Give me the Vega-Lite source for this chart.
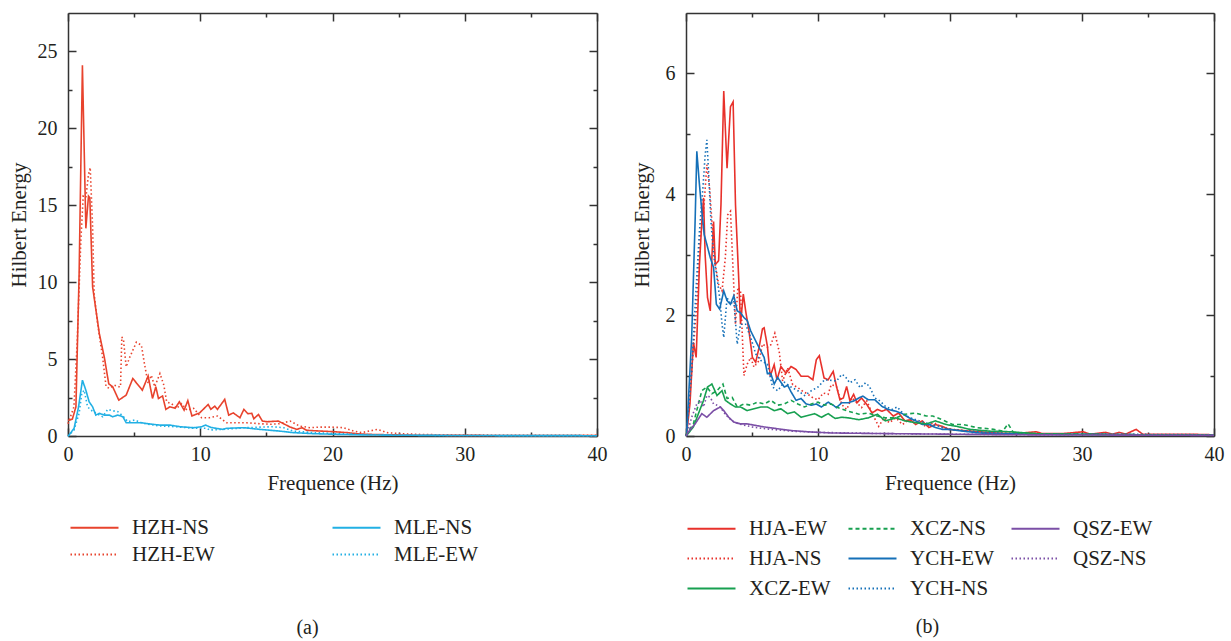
{
"$schema": "https://vega.github.io/schema/vega-lite/v6.json",
"padding": {"left": 8, "top": 12, "right": 5, "bottom": 5},
"spacing": 24,
"resolve": {"scale": {"color": "independent", "strokeDash": "independent"}},
"config": {
  "font": "Liberation Serif",
  "view": {"stroke": null},
  "axis": {"grid": false, "domainColor": "#333333", "domainWidth": 1.5, "tickColor": "#333333", "tickWidth": 1.5, "labelColor": "#231f20", "labelFontSize": 20, "titleFontSize": 21, "titleFontWeight": "normal", "titleColor": "#231f20", "labelFont": "Liberation Serif", "titleFont": "Liberation Serif"},
  "legend": {"labelFont": "Liberation Serif", "labelFontSize": 21, "labelColor": "#231f20"},
  "title": {"font": "Liberation Serif", "fontSize": 20, "fontWeight": "normal", "color": "#231f20"}
},
"hconcat": [
{
  "width": 529, "height": 423,
  "title": {"text": "(a)", "orient": "bottom", "offset": 53, "anchor": "middle", "frame": "bounds"},
  "data": {"values": [
{"s":"HZH-NS","f":0,"e":1.0},{"s":"HZH-NS","f":0.33,"e":1.1},{"s":"HZH-NS","f":0.6,"e":1.9},{"s":"HZH-NS","f":0.84,"e":10.5},{"s":"HZH-NS","f":1.09,"e":24.1},{"s":"HZH-NS","f":1.35,"e":13.5},{"s":"HZH-NS","f":1.55,"e":15.6},{"s":"HZH-NS","f":1.65,"e":15.5},{"s":"HZH-NS","f":1.86,"e":9.7},{"s":"HZH-NS","f":2.37,"e":6.65},{"s":"HZH-NS","f":2.75,"e":5.1},{"s":"HZH-NS","f":3.08,"e":3.4},{"s":"HZH-NS","f":3.38,"e":3.2},{"s":"HZH-NS","f":3.84,"e":2.33},{"s":"HZH-NS","f":4.4,"e":2.66},{"s":"HZH-NS","f":4.9,"e":3.74},{"s":"HZH-NS","f":5.62,"e":2.98},{"s":"HZH-NS","f":6.06,"e":3.9},{"s":"HZH-NS","f":6.39,"e":2.44},{"s":"HZH-NS","f":6.64,"e":3.2},{"s":"HZH-NS","f":6.84,"e":2.44},{"s":"HZH-NS","f":7.15,"e":2.6},{"s":"HZH-NS","f":7.4,"e":1.73},{"s":"HZH-NS","f":7.71,"e":1.9},{"s":"HZH-NS","f":8.1,"e":1.8},{"s":"HZH-NS","f":8.42,"e":2.22},{"s":"HZH-NS","f":8.78,"e":1.68},{"s":"HZH-NS","f":9.06,"e":2.3},{"s":"HZH-NS","f":9.37,"e":1.3},{"s":"HZH-NS","f":9.95,"e":1.5},{"s":"HZH-NS","f":10.6,"e":2.05},{"s":"HZH-NS","f":10.8,"e":1.73},{"s":"HZH-NS","f":11.1,"e":1.94},{"s":"HZH-NS","f":11.3,"e":1.73},{"s":"HZH-NS","f":11.85,"e":2.38},{"s":"HZH-NS","f":12.15,"e":1.36},{"s":"HZH-NS","f":12.5,"e":1.5},{"s":"HZH-NS","f":13.0,"e":1.19},{"s":"HZH-NS","f":13.3,"e":1.73},{"s":"HZH-NS","f":13.6,"e":1.45},{"s":"HZH-NS","f":13.9,"e":1.47},{"s":"HZH-NS","f":14.05,"e":1.12},{"s":"HZH-NS","f":14.4,"e":1.4},{"s":"HZH-NS","f":14.7,"e":0.97},{"s":"HZH-NS","f":15.06,"e":0.93},{"s":"HZH-NS","f":15.9,"e":0.97},{"s":"HZH-NS","f":16.3,"e":0.8},{"s":"HZH-NS","f":16.8,"e":0.58},{"s":"HZH-NS","f":17.3,"e":0.43},{"s":"HZH-NS","f":17.7,"e":0.54},{"s":"HZH-NS","f":18.05,"e":0.37},{"s":"HZH-NS","f":19.1,"e":0.32},{"s":"HZH-NS","f":20.1,"e":0.28},{"s":"HZH-NS","f":21.1,"e":0.22},{"s":"HZH-NS","f":21.85,"e":0.15},{"s":"HZH-NS","f":22.6,"e":0.11},{"s":"HZH-NS","f":23.6,"e":0.09},{"s":"HZH-NS","f":24.9,"e":0.07},{"s":"HZH-NS","f":26.2,"e":0.05},{"s":"HZH-NS","f":30,"e":0.04},{"s":"HZH-NS","f":35,"e":0.03},{"s":"HZH-NS","f":40,"e":0.03},
{"s":"HZH-EW","f":0,"e":0.8},{"s":"HZH-EW","f":0.45,"e":1.9},{"s":"HZH-EW","f":0.7,"e":6.2},{"s":"HZH-EW","f":0.97,"e":12.7},{"s":"HZH-EW","f":1.15,"e":15.6},{"s":"HZH-EW","f":1.35,"e":15.5},{"s":"HZH-EW","f":1.55,"e":17.0},{"s":"HZH-EW","f":1.68,"e":17.45},{"s":"HZH-EW","f":1.86,"e":13.6},{"s":"HZH-EW","f":1.98,"e":9.2},{"s":"HZH-EW","f":2.24,"e":7.3},{"s":"HZH-EW","f":2.62,"e":5.1},{"s":"HZH-EW","f":2.88,"e":3.2},{"s":"HZH-EW","f":3.13,"e":3.1},{"s":"HZH-EW","f":3.5,"e":3.3},{"s":"HZH-EW","f":3.84,"e":3.2},{"s":"HZH-EW","f":3.97,"e":3.2},{"s":"HZH-EW","f":4.07,"e":6.44},{"s":"HZH-EW","f":4.2,"e":6.2},{"s":"HZH-EW","f":4.4,"e":4.5},{"s":"HZH-EW","f":4.66,"e":5.1},{"s":"HZH-EW","f":4.9,"e":5.57},{"s":"HZH-EW","f":5.17,"e":6.1},{"s":"HZH-EW","f":5.55,"e":5.9},{"s":"HZH-EW","f":5.8,"e":4.6},{"s":"HZH-EW","f":6.06,"e":3.4},{"s":"HZH-EW","f":6.3,"e":3.95},{"s":"HZH-EW","f":6.56,"e":3.2},{"s":"HZH-EW","f":6.95,"e":4.06},{"s":"HZH-EW","f":7.25,"e":3.3},{"s":"HZH-EW","f":7.46,"e":2.22},{"s":"HZH-EW","f":7.84,"e":2.1},{"s":"HZH-EW","f":8.2,"e":1.8},{"s":"HZH-EW","f":8.6,"e":2.1},{"s":"HZH-EW","f":9.0,"e":1.68},{"s":"HZH-EW","f":9.5,"e":1.8},{"s":"HZH-EW","f":10.1,"e":1.19},{"s":"HZH-EW","f":10.7,"e":1.19},{"s":"HZH-EW","f":11.3,"e":1.3},{"s":"HZH-EW","f":12.0,"e":0.86},{"s":"HZH-EW","f":12.6,"e":0.86},{"s":"HZH-EW","f":13.5,"e":0.86},{"s":"HZH-EW","f":14.5,"e":0.8},{"s":"HZH-EW","f":15.3,"e":0.76},{"s":"HZH-EW","f":16.0,"e":0.8},{"s":"HZH-EW","f":16.8,"e":0.97},{"s":"HZH-EW","f":17.5,"e":0.65},{"s":"HZH-EW","f":18.3,"e":0.54},{"s":"HZH-EW","f":19.1,"e":0.58},{"s":"HZH-EW","f":19.95,"e":0.58},{"s":"HZH-EW","f":20.8,"e":0.54},{"s":"HZH-EW","f":21.6,"e":0.32},{"s":"HZH-EW","f":22.2,"e":0.22},{"s":"HZH-EW","f":23.4,"e":0.43},{"s":"HZH-EW","f":24.1,"e":0.22},{"s":"HZH-EW","f":25.1,"e":0.15},{"s":"HZH-EW","f":26.7,"e":0.1},{"s":"HZH-EW","f":28,"e":0.08},{"s":"HZH-EW","f":30,"e":0.06},{"s":"HZH-EW","f":33,"e":0.05},{"s":"HZH-EW","f":36,"e":0.04},{"s":"HZH-EW","f":40,"e":0.04},
{"s":"MLE-NS","f":0,"e":0.0},{"s":"MLE-NS","f":0.08,"e":0.06},{"s":"MLE-NS","f":0.46,"e":0.5},{"s":"MLE-NS","f":0.8,"e":1.9},{"s":"MLE-NS","f":1.09,"e":3.63},{"s":"MLE-NS","f":1.35,"e":2.98},{"s":"MLE-NS","f":1.6,"e":2.22},{"s":"MLE-NS","f":1.86,"e":1.9},{"s":"MLE-NS","f":2.1,"e":1.36},{"s":"MLE-NS","f":2.37,"e":1.47},{"s":"MLE-NS","f":2.75,"e":1.36},{"s":"MLE-NS","f":3.13,"e":1.36},{"s":"MLE-NS","f":3.38,"e":1.25},{"s":"MLE-NS","f":3.77,"e":1.36},{"s":"MLE-NS","f":4.15,"e":1.25},{"s":"MLE-NS","f":4.4,"e":0.86},{"s":"MLE-NS","f":4.9,"e":0.86},{"s":"MLE-NS","f":5.55,"e":0.86},{"s":"MLE-NS","f":6.2,"e":0.78},{"s":"MLE-NS","f":6.95,"e":0.71},{"s":"MLE-NS","f":7.7,"e":0.71},{"s":"MLE-NS","f":8.5,"e":0.6},{"s":"MLE-NS","f":9.5,"e":0.54},{"s":"MLE-NS","f":10.1,"e":0.6},{"s":"MLE-NS","f":10.4,"e":0.71},{"s":"MLE-NS","f":10.8,"e":0.56},{"s":"MLE-NS","f":11.7,"e":0.43},{"s":"MLE-NS","f":12.0,"e":0.5},{"s":"MLE-NS","f":13.3,"e":0.54},{"s":"MLE-NS","f":14.5,"e":0.43},{"s":"MLE-NS","f":15.3,"e":0.37},{"s":"MLE-NS","f":16.0,"e":0.32},{"s":"MLE-NS","f":17.0,"e":0.22},{"s":"MLE-NS","f":18.6,"e":0.15},{"s":"MLE-NS","f":20.3,"e":0.11},{"s":"MLE-NS","f":22.4,"e":0.07},{"s":"MLE-NS","f":24.9,"e":0.05},{"s":"MLE-NS","f":30,"e":0.03},{"s":"MLE-NS","f":40,"e":0.02},
{"s":"MLE-EW","f":0,"e":0.0},{"s":"MLE-EW","f":0.08,"e":0.04},{"s":"MLE-EW","f":0.46,"e":0.4},{"s":"MLE-EW","f":0.84,"e":1.47},{"s":"MLE-EW","f":1.04,"e":2.76},{"s":"MLE-EW","f":1.22,"e":2.98},{"s":"MLE-EW","f":1.48,"e":1.9},{"s":"MLE-EW","f":1.73,"e":1.68},{"s":"MLE-EW","f":2.1,"e":1.5},{"s":"MLE-EW","f":2.62,"e":1.25},{"s":"MLE-EW","f":3.0,"e":1.73},{"s":"MLE-EW","f":3.38,"e":1.64},{"s":"MLE-EW","f":3.77,"e":1.58},{"s":"MLE-EW","f":4.15,"e":1.3},{"s":"MLE-EW","f":4.53,"e":0.93},{"s":"MLE-EW","f":5.04,"e":1.04},{"s":"MLE-EW","f":5.67,"e":0.82},{"s":"MLE-EW","f":6.95,"e":0.65},{"s":"MLE-EW","f":8.2,"e":0.6},{"s":"MLE-EW","f":9.5,"e":0.5},{"s":"MLE-EW","f":10.5,"e":0.5},{"s":"MLE-EW","f":10.7,"e":0.39},{"s":"MLE-EW","f":11.7,"e":0.43},{"s":"MLE-EW","f":13.5,"e":0.54},{"s":"MLE-EW","f":14.6,"e":0.58},{"s":"MLE-EW","f":15.5,"e":0.6},{"s":"MLE-EW","f":16.3,"e":0.54},{"s":"MLE-EW","f":17.0,"e":0.32},{"s":"MLE-EW","f":18.6,"e":0.22},{"s":"MLE-EW","f":20.3,"e":0.15},{"s":"MLE-EW","f":22.6,"e":0.09},{"s":"MLE-EW","f":24.9,"e":0.06},{"s":"MLE-EW","f":30,"e":0.03},{"s":"MLE-EW","f":40,"e":0.02}
  ]},
  "layer": [
    {"mark": {"type": "line", "strokeWidth": 1.6},
     "encoding": {
       "x": {"field": "f", "type": "quantitative", "scale": {"domain": [0, 40], "nice": false, "zero": false}, "axis": {"orient": "bottom", "values": [0, 10, 20, 30, 40], "tickSize": -8, "labelPadding": 16, "labelFlush": false, "title": "Frequence (Hz)", "titlePadding": 8}},
       "y": {"field": "e", "type": "quantitative", "scale": {"domain": [0, 27.5], "nice": false}, "axis": {"orient": "left", "values": [0, 5, 10, 15, 20, 25], "tickSize": -8, "labelPadding": 19, "title": "Hilbert Energy", "titlePadding": 8}},
       "color": {"field": "s", "type": "nominal", "scale": {"domain": ["HZH-NS", "HZH-EW", "MLE-NS", "MLE-EW"], "range": ["#e8432d", "#e8432d", "#22b0e4", "#22b0e4"]},
         "legend": {"orient": "none", "legendX": 16, "legendY": 504, "columns": 2, "title": null, "symbolType": "M-3,0H3", "symbolSize": 256, "symbolStrokeWidth": 2, "labelOffset": 27, "columnPadding": 113, "rowPadding": 5}},
       "strokeDash": {"field": "s", "type": "nominal", "scale": {"domain": ["HZH-NS", "HZH-EW", "MLE-NS", "MLE-EW"], "range": [[1, 0], [1.5, 2.5], [1, 0], [1.5, 2.5]]},
         "legend": {"orient": "none", "legendX": 16, "legendY": 504, "columns": 2, "title": null, "symbolType": "M-3,0H3", "symbolSize": 256, "symbolStrokeWidth": 2, "labelOffset": 27, "columnPadding": 113, "rowPadding": 5}}
     }},
    {"mark": {"type": "line", "opacity": 0},
     "encoding": {
       "x": {"field": "f", "type": "quantitative", "scale": {"domain": [0, 40], "nice": false, "zero": false}, "axis": {"orient": "bottom", "values": [5, 15, 25, 35], "tickSize": -4, "labels": false, "domain": false, "title": null}},
       "y": {"field": "e", "type": "quantitative", "scale": {"domain": [0, 27.5], "nice": false}, "axis": {"orient": "left", "values": [2.5, 7.5, 12.5, 17.5, 22.5], "tickSize": -4, "labels": false, "domain": false, "title": null}},
       "detail": {"field": "s"}
     }},
    {"mark": {"type": "line", "opacity": 0},
     "encoding": {
       "x": {"field": "f", "type": "quantitative", "scale": {"domain": [0, 40], "nice": false, "zero": false}, "axis": {"orient": "top", "values": [0, 10, 20, 30, 40], "tickSize": -8, "labels": false, "title": null}},
       "y": {"field": "e", "type": "quantitative", "scale": {"domain": [0, 27.5], "nice": false}, "axis": {"orient": "right", "values": [0, 5, 10, 15, 20, 25], "tickSize": -8, "labels": false, "title": null}},
       "detail": {"field": "s"}
     }},
    {"mark": {"type": "line", "opacity": 0},
     "encoding": {
       "x": {"field": "f", "type": "quantitative", "scale": {"domain": [0, 40], "nice": false, "zero": false}, "axis": {"orient": "top", "values": [5, 15, 25, 35], "tickSize": -4, "labels": false, "domain": false, "title": null}},
       "y": {"field": "e", "type": "quantitative", "scale": {"domain": [0, 27.5], "nice": false}, "axis": {"orient": "right", "values": [2.5, 7.5, 12.5, 17.5, 22.5], "tickSize": -4, "labels": false, "domain": false, "title": null}},
       "detail": {"field": "s"}
     }}
  ],
  "resolve": {"axis": {"x": "independent", "y": "independent"}}
},
{
  "width": 528, "height": 423,
  "title": {"text": "(b)", "orient": "bottom", "offset": 18, "anchor": "middle", "frame": "bounds"},
  "data": {"values": [
{"s":"HJA-EW","f":0,"e":0},{"s":"HJA-EW","f":0.05,"e":0.04},{"s":"HJA-EW","f":0.3,"e":0.53},{"s":"HJA-EW","f":0.56,"e":1.55},{"s":"HJA-EW","f":0.77,"e":1.3},{"s":"HJA-EW","f":1.02,"e":2.84},{"s":"HJA-EW","f":1.2,"e":3.55},{"s":"HJA-EW","f":1.33,"e":3.94},{"s":"HJA-EW","f":1.45,"e":3.0},{"s":"HJA-EW","f":1.63,"e":2.29},{"s":"HJA-EW","f":1.84,"e":2.07},{"s":"HJA-EW","f":1.96,"e":2.95},{"s":"HJA-EW","f":2.09,"e":3.55},{"s":"HJA-EW","f":2.22,"e":2.84},{"s":"HJA-EW","f":2.35,"e":2.87},{"s":"HJA-EW","f":2.47,"e":2.9},{"s":"HJA-EW","f":2.65,"e":3.83},{"s":"HJA-EW","f":2.86,"e":5.71},{"s":"HJA-EW","f":3.11,"e":4.43},{"s":"HJA-EW","f":3.37,"e":5.45},{"s":"HJA-EW","f":3.57,"e":5.53},{"s":"HJA-EW","f":3.75,"e":3.83},{"s":"HJA-EW","f":4.0,"e":2.57},{"s":"HJA-EW","f":4.13,"e":1.85},{"s":"HJA-EW","f":4.34,"e":2.35},{"s":"HJA-EW","f":4.52,"e":2.07},{"s":"HJA-EW","f":4.77,"e":1.74},{"s":"HJA-EW","f":5.03,"e":1.3},{"s":"HJA-EW","f":5.28,"e":1.22},{"s":"HJA-EW","f":5.54,"e":1.47},{"s":"HJA-EW","f":5.79,"e":1.77},{"s":"HJA-EW","f":5.92,"e":1.79},{"s":"HJA-EW","f":6.17,"e":1.48},{"s":"HJA-EW","f":6.38,"e":0.99},{"s":"HJA-EW","f":6.68,"e":1.18},{"s":"HJA-EW","f":6.89,"e":0.93},{"s":"HJA-EW","f":7.19,"e":1.15},{"s":"HJA-EW","f":7.57,"e":1.04},{"s":"HJA-EW","f":7.96,"e":1.15},{"s":"HJA-EW","f":8.34,"e":1.1},{"s":"HJA-EW","f":8.72,"e":0.99},{"s":"HJA-EW","f":9.24,"e":0.99},{"s":"HJA-EW","f":9.61,"e":0.93},{"s":"HJA-EW","f":9.87,"e":1.26},{"s":"HJA-EW","f":10.1,"e":1.33},{"s":"HJA-EW","f":10.46,"e":0.96},{"s":"HJA-EW","f":10.77,"e":0.93},{"s":"HJA-EW","f":11.15,"e":1.07},{"s":"HJA-EW","f":11.4,"e":0.82},{"s":"HJA-EW","f":11.66,"e":0.6},{"s":"HJA-EW","f":11.92,"e":0.63},{"s":"HJA-EW","f":12.17,"e":0.82},{"s":"HJA-EW","f":12.42,"e":0.58},{"s":"HJA-EW","f":12.7,"e":0.69},{"s":"HJA-EW","f":12.95,"e":0.55},{"s":"HJA-EW","f":13.3,"e":0.63},{"s":"HJA-EW","f":13.7,"e":0.52},{"s":"HJA-EW","f":14.1,"e":0.38},{"s":"HJA-EW","f":14.5,"e":0.44},{"s":"HJA-EW","f":14.84,"e":0.41},{"s":"HJA-EW","f":15.2,"e":0.44},{"s":"HJA-EW","f":15.7,"e":0.33},{"s":"HJA-EW","f":16.1,"e":0.38},{"s":"HJA-EW","f":16.6,"e":0.25},{"s":"HJA-EW","f":17.0,"e":0.27},{"s":"HJA-EW","f":17.4,"e":0.19},{"s":"HJA-EW","f":17.9,"e":0.25},{"s":"HJA-EW","f":18.4,"e":0.14},{"s":"HJA-EW","f":18.9,"e":0.19},{"s":"HJA-EW","f":19.4,"e":0.16},{"s":"HJA-EW","f":19.9,"e":0.11},{"s":"HJA-EW","f":21.0,"e":0.09},{"s":"HJA-EW","f":22.2,"e":0.07},{"s":"HJA-EW","f":23.5,"e":0.05},{"s":"HJA-EW","f":25,"e":0.04},{"s":"HJA-EW","f":26.5,"e":0.07},{"s":"HJA-EW","f":27,"e":0.04},{"s":"HJA-EW","f":28.5,"e":0.04},{"s":"HJA-EW","f":30.1,"e":0.07},{"s":"HJA-EW","f":30.6,"e":0.03},{"s":"HJA-EW","f":31.8,"e":0.06},{"s":"HJA-EW","f":32.3,"e":0.03},{"s":"HJA-EW","f":32.8,"e":0.06},{"s":"HJA-EW","f":33.3,"e":0.03},{"s":"HJA-EW","f":34.1,"e":0.11},{"s":"HJA-EW","f":34.6,"e":0.03},{"s":"HJA-EW","f":36,"e":0.03},{"s":"HJA-EW","f":38,"e":0.03},{"s":"HJA-EW","f":40,"e":0.02},
{"s":"HJA-NS","f":0,"e":0},{"s":"HJA-NS","f":0.05,"e":0.04},{"s":"HJA-NS","f":0.43,"e":1.08},{"s":"HJA-NS","f":0.82,"e":2.18},{"s":"HJA-NS","f":1.07,"e":3.28},{"s":"HJA-NS","f":1.33,"e":3.72},{"s":"HJA-NS","f":1.58,"e":4.49},{"s":"HJA-NS","f":1.79,"e":4.1},{"s":"HJA-NS","f":1.96,"e":3.55},{"s":"HJA-NS","f":2.22,"e":2.84},{"s":"HJA-NS","f":2.47,"e":2.51},{"s":"HJA-NS","f":2.73,"e":2.4},{"s":"HJA-NS","f":2.98,"e":2.95},{"s":"HJA-NS","f":3.16,"e":3.66},{"s":"HJA-NS","f":3.37,"e":3.72},{"s":"HJA-NS","f":3.57,"e":2.73},{"s":"HJA-NS","f":3.75,"e":1.85},{"s":"HJA-NS","f":3.93,"e":2.46},{"s":"HJA-NS","f":4.13,"e":2.4},{"s":"HJA-NS","f":4.39,"e":1.0},{"s":"HJA-NS","f":4.64,"e":1.19},{"s":"HJA-NS","f":4.9,"e":1.3},{"s":"HJA-NS","f":5.15,"e":1.14},{"s":"HJA-NS","f":5.54,"e":1.25},{"s":"HJA-NS","f":5.79,"e":1.52},{"s":"HJA-NS","f":6.17,"e":1.47},{"s":"HJA-NS","f":6.43,"e":1.51},{"s":"HJA-NS","f":6.73,"e":1.7},{"s":"HJA-NS","f":7.06,"e":1.4},{"s":"HJA-NS","f":7.32,"e":0.91},{"s":"HJA-NS","f":7.7,"e":1.13},{"s":"HJA-NS","f":8.08,"e":0.85},{"s":"HJA-NS","f":8.47,"e":0.8},{"s":"HJA-NS","f":8.85,"e":0.74},{"s":"HJA-NS","f":9.24,"e":0.69},{"s":"HJA-NS","f":9.62,"e":0.63},{"s":"HJA-NS","f":10.0,"e":0.6},{"s":"HJA-NS","f":10.4,"e":0.71},{"s":"HJA-NS","f":10.77,"e":0.69},{"s":"HJA-NS","f":11.0,"e":0.85},{"s":"HJA-NS","f":11.4,"e":0.82},{"s":"HJA-NS","f":11.8,"e":0.52},{"s":"HJA-NS","f":12.17,"e":0.44},{"s":"HJA-NS","f":12.56,"e":0.63},{"s":"HJA-NS","f":12.95,"e":0.55},{"s":"HJA-NS","f":13.3,"e":0.47},{"s":"HJA-NS","f":13.7,"e":0.58},{"s":"HJA-NS","f":14.2,"e":0.33},{"s":"HJA-NS","f":14.6,"e":0.16},{"s":"HJA-NS","f":15.0,"e":0.3},{"s":"HJA-NS","f":15.4,"e":0.22},{"s":"HJA-NS","f":15.9,"e":0.3},{"s":"HJA-NS","f":16.4,"e":0.19},{"s":"HJA-NS","f":16.9,"e":0.27},{"s":"HJA-NS","f":17.5,"e":0.25},{"s":"HJA-NS","f":18.15,"e":0.16},{"s":"HJA-NS","f":18.8,"e":0.22},{"s":"HJA-NS","f":19.4,"e":0.14},{"s":"HJA-NS","f":20.2,"e":0.11},{"s":"HJA-NS","f":21.5,"e":0.08},{"s":"HJA-NS","f":23.0,"e":0.05},{"s":"HJA-NS","f":26,"e":0.03},{"s":"HJA-NS","f":30,"e":0.03},{"s":"HJA-NS","f":35,"e":0.02},{"s":"HJA-NS","f":40,"e":0.02},
{"s":"YCH-EW","f":0,"e":0},{"s":"YCH-EW","f":0.05,"e":0.04},{"s":"YCH-EW","f":0.43,"e":1.63},{"s":"YCH-EW","f":0.69,"e":3.55},{"s":"YCH-EW","f":0.82,"e":4.71},{"s":"YCH-EW","f":1.0,"e":4.21},{"s":"YCH-EW","f":1.2,"e":3.72},{"s":"YCH-EW","f":1.38,"e":3.33},{"s":"YCH-EW","f":1.58,"e":3.17},{"s":"YCH-EW","f":1.84,"e":2.95},{"s":"YCH-EW","f":2.09,"e":2.79},{"s":"YCH-EW","f":2.3,"e":2.18},{"s":"YCH-EW","f":2.55,"e":2.1},{"s":"YCH-EW","f":2.86,"e":2.4},{"s":"YCH-EW","f":3.11,"e":2.24},{"s":"YCH-EW","f":3.37,"e":2.18},{"s":"YCH-EW","f":3.62,"e":2.32},{"s":"YCH-EW","f":3.88,"e":2.07},{"s":"YCH-EW","f":4.13,"e":2.04},{"s":"YCH-EW","f":4.39,"e":1.96},{"s":"YCH-EW","f":4.64,"e":1.91},{"s":"YCH-EW","f":4.9,"e":1.74},{"s":"YCH-EW","f":5.15,"e":1.63},{"s":"YCH-EW","f":5.4,"e":1.52},{"s":"YCH-EW","f":5.66,"e":1.41},{"s":"YCH-EW","f":5.92,"e":1.3},{"s":"YCH-EW","f":6.17,"e":1.03},{"s":"YCH-EW","f":6.43,"e":1.03},{"s":"YCH-EW","f":6.68,"e":0.86},{"s":"YCH-EW","f":6.94,"e":0.97},{"s":"YCH-EW","f":7.19,"e":0.89},{"s":"YCH-EW","f":7.45,"e":0.81},{"s":"YCH-EW","f":7.7,"e":0.84},{"s":"YCH-EW","f":7.96,"e":0.73},{"s":"YCH-EW","f":8.34,"e":0.59},{"s":"YCH-EW","f":8.72,"e":0.62},{"s":"YCH-EW","f":9.1,"e":0.53},{"s":"YCH-EW","f":9.5,"e":0.51},{"s":"YCH-EW","f":9.87,"e":0.53},{"s":"YCH-EW","f":10.26,"e":0.48},{"s":"YCH-EW","f":10.77,"e":0.56},{"s":"YCH-EW","f":11.15,"e":0.51},{"s":"YCH-EW","f":11.4,"e":0.47},{"s":"YCH-EW","f":11.8,"e":0.55},{"s":"YCH-EW","f":12.3,"e":0.55},{"s":"YCH-EW","f":12.7,"e":0.58},{"s":"YCH-EW","f":13.1,"e":0.63},{"s":"YCH-EW","f":13.4,"e":0.66},{"s":"YCH-EW","f":13.8,"e":0.6},{"s":"YCH-EW","f":14.3,"e":0.6},{"s":"YCH-EW","f":14.85,"e":0.49},{"s":"YCH-EW","f":15.3,"e":0.44},{"s":"YCH-EW","f":15.9,"e":0.41},{"s":"YCH-EW","f":16.4,"e":0.37},{"s":"YCH-EW","f":16.9,"e":0.3},{"s":"YCH-EW","f":17.4,"e":0.25},{"s":"YCH-EW","f":17.9,"e":0.19},{"s":"YCH-EW","f":18.4,"e":0.19},{"s":"YCH-EW","f":18.9,"e":0.14},{"s":"YCH-EW","f":19.4,"e":0.11},{"s":"YCH-EW","f":19.9,"e":0.11},{"s":"YCH-EW","f":21.0,"e":0.08},{"s":"YCH-EW","f":22.2,"e":0.05},{"s":"YCH-EW","f":23.5,"e":0.04},{"s":"YCH-EW","f":26,"e":0.03},{"s":"YCH-EW","f":30,"e":0.03},{"s":"YCH-EW","f":35,"e":0.02},{"s":"YCH-EW","f":40,"e":0.02},
{"s":"YCH-NS","f":0,"e":0},{"s":"YCH-NS","f":0.05,"e":0.04},{"s":"YCH-NS","f":0.43,"e":1.08},{"s":"YCH-NS","f":0.77,"e":2.46},{"s":"YCH-NS","f":1.02,"e":3.39},{"s":"YCH-NS","f":1.28,"e":4.1},{"s":"YCH-NS","f":1.45,"e":4.65},{"s":"YCH-NS","f":1.58,"e":4.9},{"s":"YCH-NS","f":1.71,"e":4.38},{"s":"YCH-NS","f":1.89,"e":3.55},{"s":"YCH-NS","f":2.09,"e":3.0},{"s":"YCH-NS","f":2.35,"e":2.62},{"s":"YCH-NS","f":2.55,"e":2.29},{"s":"YCH-NS","f":2.73,"e":1.85},{"s":"YCH-NS","f":2.86,"e":1.63},{"s":"YCH-NS","f":3.11,"e":2.29},{"s":"YCH-NS","f":3.37,"e":2.18},{"s":"YCH-NS","f":3.62,"e":2.24},{"s":"YCH-NS","f":3.88,"e":1.52},{"s":"YCH-NS","f":4.13,"e":1.85},{"s":"YCH-NS","f":4.52,"e":1.85},{"s":"YCH-NS","f":4.9,"e":1.63},{"s":"YCH-NS","f":5.28,"e":1.36},{"s":"YCH-NS","f":5.66,"e":1.25},{"s":"YCH-NS","f":6.17,"e":1.19},{"s":"YCH-NS","f":6.56,"e":0.81},{"s":"YCH-NS","f":6.94,"e":0.75},{"s":"YCH-NS","f":7.45,"e":0.89},{"s":"YCH-NS","f":7.96,"e":0.81},{"s":"YCH-NS","f":8.47,"e":0.75},{"s":"YCH-NS","f":8.98,"e":0.67},{"s":"YCH-NS","f":9.5,"e":0.75},{"s":"YCH-NS","f":10.0,"e":0.81},{"s":"YCH-NS","f":10.5,"e":0.93},{"s":"YCH-NS","f":11.0,"e":0.92},{"s":"YCH-NS","f":11.4,"e":0.91},{"s":"YCH-NS","f":11.8,"e":1.02},{"s":"YCH-NS","f":12.05,"e":0.99},{"s":"YCH-NS","f":12.4,"e":0.88},{"s":"YCH-NS","f":12.8,"e":0.93},{"s":"YCH-NS","f":13.2,"e":0.8},{"s":"YCH-NS","f":13.6,"e":0.88},{"s":"YCH-NS","f":13.9,"e":0.82},{"s":"YCH-NS","f":14.3,"e":0.63},{"s":"YCH-NS","f":14.7,"e":0.58},{"s":"YCH-NS","f":15.1,"e":0.49},{"s":"YCH-NS","f":15.6,"e":0.44},{"s":"YCH-NS","f":16.0,"e":0.48},{"s":"YCH-NS","f":16.5,"e":0.36},{"s":"YCH-NS","f":17.0,"e":0.3},{"s":"YCH-NS","f":17.7,"e":0.25},{"s":"YCH-NS","f":18.4,"e":0.2},{"s":"YCH-NS","f":19.2,"e":0.16},{"s":"YCH-NS","f":19.9,"e":0.11},{"s":"YCH-NS","f":21.5,"e":0.08},{"s":"YCH-NS","f":23.5,"e":0.05},{"s":"YCH-NS","f":27,"e":0.03},{"s":"YCH-NS","f":32,"e":0.03},{"s":"YCH-NS","f":40,"e":0.02},
{"s":"XCZ-NS","f":0,"e":0},{"s":"XCZ-NS","f":0.05,"e":0.04},{"s":"XCZ-NS","f":0.56,"e":0.2},{"s":"XCZ-NS","f":0.94,"e":0.53},{"s":"XCZ-NS","f":1.2,"e":0.75},{"s":"XCZ-NS","f":1.58,"e":0.81},{"s":"XCZ-NS","f":1.96,"e":0.7},{"s":"XCZ-NS","f":2.35,"e":0.75},{"s":"XCZ-NS","f":2.8,"e":0.86},{"s":"XCZ-NS","f":3.11,"e":0.62},{"s":"XCZ-NS","f":3.5,"e":0.64},{"s":"XCZ-NS","f":3.88,"e":0.48},{"s":"XCZ-NS","f":4.39,"e":0.53},{"s":"XCZ-NS","f":4.9,"e":0.51},{"s":"XCZ-NS","f":5.4,"e":0.56},{"s":"XCZ-NS","f":5.92,"e":0.53},{"s":"XCZ-NS","f":6.43,"e":0.59},{"s":"XCZ-NS","f":6.94,"e":0.51},{"s":"XCZ-NS","f":7.45,"e":0.53},{"s":"XCZ-NS","f":7.96,"e":0.59},{"s":"XCZ-NS","f":8.47,"e":0.53},{"s":"XCZ-NS","f":8.98,"e":0.48},{"s":"XCZ-NS","f":9.5,"e":0.53},{"s":"XCZ-NS","f":10.0,"e":0.56},{"s":"XCZ-NS","f":10.5,"e":0.51},{"s":"XCZ-NS","f":11.0,"e":0.53},{"s":"XCZ-NS","f":11.5,"e":0.47},{"s":"XCZ-NS","f":12.3,"e":0.41},{"s":"XCZ-NS","f":13.1,"e":0.36},{"s":"XCZ-NS","f":13.8,"e":0.38},{"s":"XCZ-NS","f":14.5,"e":0.33},{"s":"XCZ-NS","f":15.1,"e":0.3},{"s":"XCZ-NS","f":15.9,"e":0.3},{"s":"XCZ-NS","f":16.6,"e":0.36},{"s":"XCZ-NS","f":17.4,"e":0.38},{"s":"XCZ-NS","f":18.2,"e":0.33},{"s":"XCZ-NS","f":18.7,"e":0.33},{"s":"XCZ-NS","f":19.4,"e":0.27},{"s":"XCZ-NS","f":20.2,"e":0.19},{"s":"XCZ-NS","f":21.0,"e":0.19},{"s":"XCZ-NS","f":22.0,"e":0.14},{"s":"XCZ-NS","f":23.3,"e":0.11},{"s":"XCZ-NS","f":24.0,"e":0.08},{"s":"XCZ-NS","f":24.4,"e":0.2},{"s":"XCZ-NS","f":24.8,"e":0.06},{"s":"XCZ-NS","f":26,"e":0.04},{"s":"XCZ-NS","f":30,"e":0.03},{"s":"XCZ-NS","f":35,"e":0.02},{"s":"XCZ-NS","f":40,"e":0.02},
{"s":"XCZ-EW","f":0,"e":0},{"s":"XCZ-EW","f":0.05,"e":0.01},{"s":"XCZ-EW","f":0.56,"e":0.15},{"s":"XCZ-EW","f":0.94,"e":0.37},{"s":"XCZ-EW","f":1.33,"e":0.59},{"s":"XCZ-EW","f":1.63,"e":0.81},{"s":"XCZ-EW","f":1.96,"e":0.86},{"s":"XCZ-EW","f":2.35,"e":0.67},{"s":"XCZ-EW","f":2.73,"e":0.75},{"s":"XCZ-EW","f":2.98,"e":0.59},{"s":"XCZ-EW","f":3.37,"e":0.53},{"s":"XCZ-EW","f":3.75,"e":0.48},{"s":"XCZ-EW","f":4.13,"e":0.48},{"s":"XCZ-EW","f":4.64,"e":0.42},{"s":"XCZ-EW","f":5.15,"e":0.45},{"s":"XCZ-EW","f":5.66,"e":0.48},{"s":"XCZ-EW","f":6.17,"e":0.48},{"s":"XCZ-EW","f":6.68,"e":0.42},{"s":"XCZ-EW","f":7.19,"e":0.45},{"s":"XCZ-EW","f":7.7,"e":0.37},{"s":"XCZ-EW","f":8.2,"e":0.4},{"s":"XCZ-EW","f":8.72,"e":0.31},{"s":"XCZ-EW","f":9.23,"e":0.34},{"s":"XCZ-EW","f":9.74,"e":0.37},{"s":"XCZ-EW","f":10.26,"e":0.31},{"s":"XCZ-EW","f":10.77,"e":0.37},{"s":"XCZ-EW","f":11.3,"e":0.29},{"s":"XCZ-EW","f":11.8,"e":0.31},{"s":"XCZ-EW","f":12.3,"e":0.3},{"s":"XCZ-EW","f":13.1,"e":0.27},{"s":"XCZ-EW","f":13.8,"e":0.3},{"s":"XCZ-EW","f":14.5,"e":0.36},{"s":"XCZ-EW","f":15.1,"e":0.25},{"s":"XCZ-EW","f":15.9,"e":0.3},{"s":"XCZ-EW","f":16.6,"e":0.25},{"s":"XCZ-EW","f":17.4,"e":0.22},{"s":"XCZ-EW","f":18.2,"e":0.2},{"s":"XCZ-EW","f":18.9,"e":0.25},{"s":"XCZ-EW","f":19.7,"e":0.19},{"s":"XCZ-EW","f":20.5,"e":0.16},{"s":"XCZ-EW","f":21.5,"e":0.11},{"s":"XCZ-EW","f":23.0,"e":0.08},{"s":"XCZ-EW","f":24.6,"e":0.07},{"s":"XCZ-EW","f":27,"e":0.03},{"s":"XCZ-EW","f":32,"e":0.02},{"s":"XCZ-EW","f":40,"e":0.02},
{"s":"QSZ-NS","f":0,"e":0},{"s":"QSZ-NS","f":0.05,"e":0.01},{"s":"QSZ-NS","f":0.43,"e":0.31},{"s":"QSZ-NS","f":0.82,"e":0.53},{"s":"QSZ-NS","f":1.07,"e":0.59},{"s":"QSZ-NS","f":1.33,"e":0.48},{"s":"QSZ-NS","f":1.58,"e":0.67},{"s":"QSZ-NS","f":1.84,"e":0.64},{"s":"QSZ-NS","f":2.09,"e":0.53},{"s":"QSZ-NS","f":2.35,"e":0.51},{"s":"QSZ-NS","f":2.6,"e":0.48},{"s":"QSZ-NS","f":3.0,"e":0.35},{"s":"QSZ-NS","f":3.5,"e":0.25},{"s":"QSZ-NS","f":4.0,"e":0.2},{"s":"QSZ-NS","f":5.0,"e":0.15},{"s":"QSZ-NS","f":6.0,"e":0.12},{"s":"QSZ-NS","f":8.0,"e":0.08},{"s":"QSZ-NS","f":10.0,"e":0.06},{"s":"QSZ-NS","f":15.0,"e":0.04},{"s":"QSZ-NS","f":20.0,"e":0.03},{"s":"QSZ-NS","f":30,"e":0.02},{"s":"QSZ-NS","f":40,"e":0.02},
{"s":"QSZ-EW","f":0,"e":0},{"s":"QSZ-EW","f":0.18,"e":0.07},{"s":"QSZ-EW","f":0.69,"e":0.2},{"s":"QSZ-EW","f":1.2,"e":0.37},{"s":"QSZ-EW","f":1.58,"e":0.31},{"s":"QSZ-EW","f":2.09,"e":0.42},{"s":"QSZ-EW","f":2.6,"e":0.48},{"s":"QSZ-EW","f":2.86,"e":0.42},{"s":"QSZ-EW","f":3.24,"e":0.31},{"s":"QSZ-EW","f":3.62,"e":0.23},{"s":"QSZ-EW","f":4.13,"e":0.2},{"s":"QSZ-EW","f":4.64,"e":0.2},{"s":"QSZ-EW","f":5.15,"e":0.18},{"s":"QSZ-EW","f":5.92,"e":0.15},{"s":"QSZ-EW","f":6.94,"e":0.12},{"s":"QSZ-EW","f":7.96,"e":0.09},{"s":"QSZ-EW","f":9.23,"e":0.07},{"s":"QSZ-EW","f":11.0,"e":0.05},{"s":"QSZ-EW","f":15,"e":0.04},{"s":"QSZ-EW","f":20,"e":0.03},{"s":"QSZ-EW","f":25,"e":0.02},{"s":"QSZ-EW","f":40,"e":0.01}
  ]},
  "layer": [
    {"mark": {"type": "line", "strokeWidth": 1.6},
     "encoding": {
       "x": {"field": "f", "type": "quantitative", "scale": {"domain": [0, 40], "nice": false, "zero": false}, "axis": {"orient": "bottom", "values": [0, 10, 20, 30, 40], "tickSize": -8, "labelPadding": 16, "labelFlush": false, "title": "Frequence (Hz)", "titlePadding": 8}},
       "y": {"field": "e", "type": "quantitative", "scale": {"domain": [0, 7], "nice": false}, "axis": {"orient": "left", "values": [0, 2, 4, 6], "tickSize": -8, "labelPadding": 19, "title": "Hilbert Energy", "titlePadding": 13}},
       "color": {"field": "s", "type": "nominal", "scale": {"domain": ["HJA-EW", "HJA-NS", "XCZ-EW", "XCZ-NS", "YCH-EW", "YCH-NS", "QSZ-EW", "QSZ-NS"], "range": ["#e8312b", "#e8312b", "#17a050", "#17a050", "#1570b8", "#1570b8", "#7b4fa6", "#7b4fa6"]},
         "legend": {"orient": "none", "legendX": 15, "legendY": 505, "columns": 3, "title": null, "symbolType": "M-3,0H3", "symbolSize": 256, "symbolStrokeWidth": 2, "labelOffset": 27, "columnPadding": 13, "rowPadding": 8}},
       "strokeDash": {"field": "s", "type": "nominal", "scale": {"domain": ["HJA-EW", "HJA-NS", "XCZ-EW", "XCZ-NS", "YCH-EW", "YCH-NS", "QSZ-EW", "QSZ-NS"], "range": [[1, 0], [1.5, 2.5], [1, 0], [4, 3], [1, 0], [1.5, 2.5], [1, 0], [1.5, 2.5]]},
         "legend": {"orient": "none", "legendX": 15, "legendY": 505, "columns": 3, "title": null, "symbolType": "M-3,0H3", "symbolSize": 256, "symbolStrokeWidth": 2, "labelOffset": 27, "columnPadding": 13, "rowPadding": 8}}
     }},
    {"mark": {"type": "line", "opacity": 0},
     "encoding": {
       "x": {"field": "f", "type": "quantitative", "scale": {"domain": [0, 40], "nice": false, "zero": false}, "axis": {"orient": "bottom", "values": [5, 15, 25, 35], "tickSize": -4, "labels": false, "domain": false, "title": null}},
       "y": {"field": "e", "type": "quantitative", "scale": {"domain": [0, 7], "nice": false}, "axis": {"orient": "left", "values": [1, 3, 5], "tickSize": -4, "labels": false, "domain": false, "title": null}},
       "detail": {"field": "s"}
     }},
    {"mark": {"type": "line", "opacity": 0},
     "encoding": {
       "x": {"field": "f", "type": "quantitative", "scale": {"domain": [0, 40], "nice": false, "zero": false}, "axis": {"orient": "top", "values": [0, 10, 20, 30, 40], "tickSize": -8, "labels": false, "title": null}},
       "y": {"field": "e", "type": "quantitative", "scale": {"domain": [0, 7], "nice": false}, "axis": {"orient": "right", "values": [0, 2, 4, 6], "tickSize": -8, "labels": false, "title": null}},
       "detail": {"field": "s"}
     }},
    {"mark": {"type": "line", "opacity": 0},
     "encoding": {
       "x": {"field": "f", "type": "quantitative", "scale": {"domain": [0, 40], "nice": false, "zero": false}, "axis": {"orient": "top", "values": [5, 15, 25, 35], "tickSize": -4, "labels": false, "domain": false, "title": null}},
       "y": {"field": "e", "type": "quantitative", "scale": {"domain": [0, 7], "nice": false}, "axis": {"orient": "right", "values": [1, 3, 5], "tickSize": -4, "labels": false, "domain": false, "title": null}},
       "detail": {"field": "s"}
     }}
  ],
  "resolve": {"axis": {"x": "independent", "y": "independent"}}
}
]
}
